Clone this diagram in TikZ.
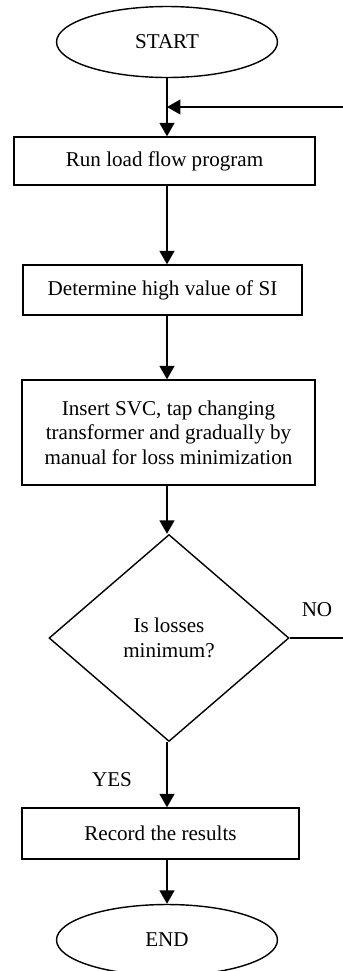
\documentclass[tikz,border=0pt]{standalone}
\usepackage{fontspec}
\setmainfont{Liberation Serif}
\usetikzlibrary{shapes.geometric}
\usetikzlibrary{arrows.meta}
\usetikzlibrary{positioning}

\begin{document}
\begin{tikzpicture}[x=0.02cm,y=-0.02cm,line width=0.8pt,
  every node/.style={font=\fontsize{12}{14}\selectfont},
  box/.style={draw,rectangle,align=center,inner sep=0pt},
  term/.style={draw,ellipse,inner sep=0pt,minimum width=4.42cm,minimum height=1.42cm},
  flow/.style={-{Triangle[width=0.3cm,length=0.27cm]}}]
\useasboundingbox (0,0) rectangle (342,971);
\node[term] (start) at (167,42) {START};
\node[box,minimum width=6.02cm,minimum height=0.96cm] (run) at (164.5,161) {Run load flow program};
\node[box,minimum width=5.58cm,minimum height=1cm] (si) at (162.5,290) {Determine high value of SI};
\node[box,minimum width=5.86cm,minimum height=2.1cm] (svc) at (168.5,432.5) {Insert SVC, tap changing\\transformer and gradually by\\manual for loss minimization};
\node[draw,diamond,inner sep=0pt,minimum width=4.8cm,minimum height=4.14cm,align=center] (dec) at (169,638) {Is losses\\minimum?};
\node[box,minimum width=5.54cm,minimum height=1.02cm] (rec) at (160.5,833.5) {Record the results};
\node[term] (end) at (167,940) {END};
\node (no) at (317,610) {NO};
\node (yes) at (112,780) {YES};
\coordinate (back) at (345,107);
\coordinate (out) at (345,638);
\draw[flow] (start.south) -- (start.south |- run.north);
\draw[flow] (run.south -| start) -- (si.north -| start);
\draw[flow] (si.south -| start) -- (svc.north -| start);
\draw[flow] (svc.south -| start) -- (dec.north -| start);
\draw[flow] (dec.south -| start) -- (rec.north -| start);
\draw[flow] (rec.south -| start) -- (end.north);
% loop back when losses are not minimum
\draw[flow] (dec.east) -- (out) -- (back) -- (back -| start);
\end{tikzpicture}
\end{document}
